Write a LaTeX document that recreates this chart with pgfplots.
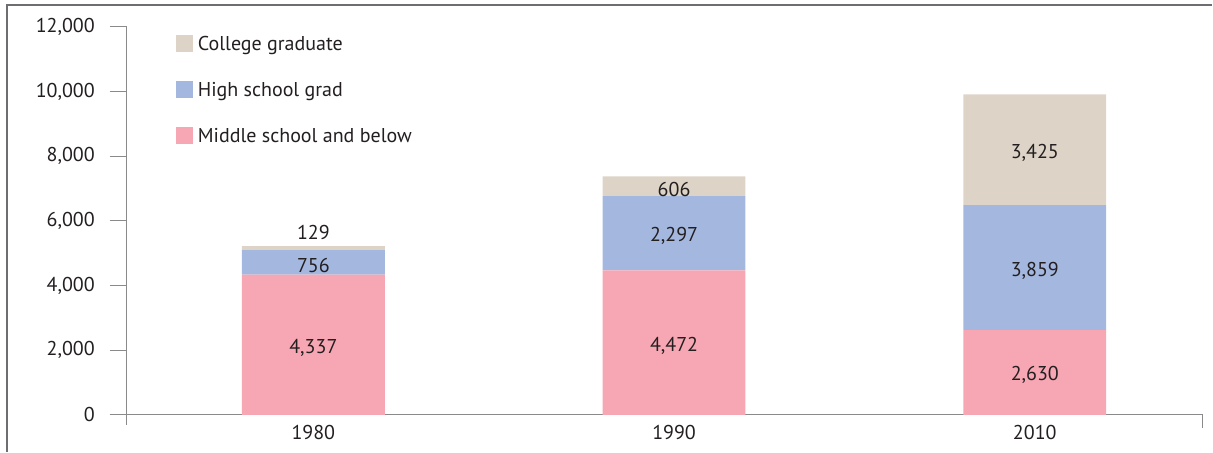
\documentclass[border=0pt]{standalone}
\usepackage{pgfplots}
\pgfplotsset{compat=1.18}
\usepackage{fontspec}
\setmainfont{PT Sans}

\definecolor{pinkbar}{HTML}{F7A7B3}
\definecolor{bluebar}{HTML}{A3B7DF}
\definecolor{beigebar}{HTML}{DDD4C7}
\definecolor{txt}{HTML}{231F20}
\definecolor{axgray}{HTML}{8A8A8A}
\definecolor{framegray}{HTML}{6D6E71}

\begin{document}
\begin{tikzpicture}[font=\fontsize{20pt}{24pt}\selectfont]
\begin{axis}[
    width=1076pt, height=388pt, scale only axis,
    clip=false,
    xmin=-0.5168, xmax=2.4647,
    ymin=0, ymax=12000,
    ybar stacked, bar width=0.396,
    xtick={0,1,2}, xticklabels={1980,1990,2010},
    ytick={0,2000,...,12000},
    scaled y ticks=false,
    ytick pos=left,
    axis line style={draw=none},
    xtick style={draw=none},
    ytick style={draw=axgray, line width=1pt},
    tick align=outside, major tick length=17pt,
    yticklabel style={anchor=east, inner sep=0pt, xshift=-15pt, text=txt},
    xticklabel style={anchor=north, inner sep=0pt, yshift=7pt, text=txt},
    /pgf/number format/1000 sep={,},
    /pgf/number format/assume math mode=true,
    reverse legend,
    legend cell align=left,
    legend style={at={(0.04554,0.97938)}, anchor=north west, draw=none, fill=none,
        inner sep=0pt, outer sep=0pt, row sep=29pt,
        nodes={inner sep=0pt, text height=15.5pt, text depth=1.5pt, text=txt},
        /tikz/every odd column/.append style={column sep=5pt}},
    legend image code/.code={\fill[#1] (0pt,-8.5pt) rectangle (17pt,8.5pt);},
]
\addplot[fill=pinkbar, draw=none] coordinates {(0,4337) (1,4472) (2,2630)};
\addlegendentry{Middle school and below}
\addplot[fill=bluebar, draw=none] coordinates {(0,756) (1,2297) (2,3859)};
\addlegendentry{High school grad}
\addplot[fill=beigebar, draw=none] coordinates {(0,129) (1,606) (2,3425)};
\addlegendentry{College graduate}

% anchor points for segment labels (segment middles)
\coordinate (a1) at (axis cs:0,2168);
\coordinate (a2) at (axis cs:0,4715);
\coordinate (a3) at (axis cs:0,5222);
\coordinate (b1) at (axis cs:1,2236);
\coordinate (b2) at (axis cs:1,5620);
\coordinate (b3) at (axis cs:1,7072);
\coordinate (c1) at (axis cs:2,1315);
\coordinate (c2) at (axis cs:2,4560);
\coordinate (c3) at (axis cs:2,8202);

% axis lines
\draw[axgray, line width=1pt] ([yshift=-10pt]rel axis cs:0,0) -- (rel axis cs:0,1);
\draw[axgray, line width=1pt] ([xshift=-17pt]rel axis cs:0,0) -- (rel axis cs:1,0) -- ([yshift=-13pt]rel axis cs:1,0);

% outer frame
\draw[framegray, line width=1.2pt] ([xshift=-120pt,yshift=-37pt]rel axis cs:0,0) -- ([xshift=-120pt,yshift=22pt]rel axis cs:0,1) -- ([xshift=10pt,yshift=22pt]rel axis cs:1,1);
\path ([xshift=-127pt,yshift=-37pt]rel axis cs:0,0) rectangle ([xshift=10pt,yshift=27pt]rel axis cs:1,1);
\end{axis}
\begin{scope}[every node/.style={text=txt, yshift=-3pt}]
\node at (a1) {4,337};
\node at (a2) {756};
\node[yshift=17pt] at (a3) {129};
\node at (b1) {4,472};
\node at (b2) {2,297};
\node at (b3) {606};
\node at (c1) {2,630};
\node at (c2) {3,859};
\node at (c3) {3,425};
\end{scope}
\end{tikzpicture}
\end{document}
